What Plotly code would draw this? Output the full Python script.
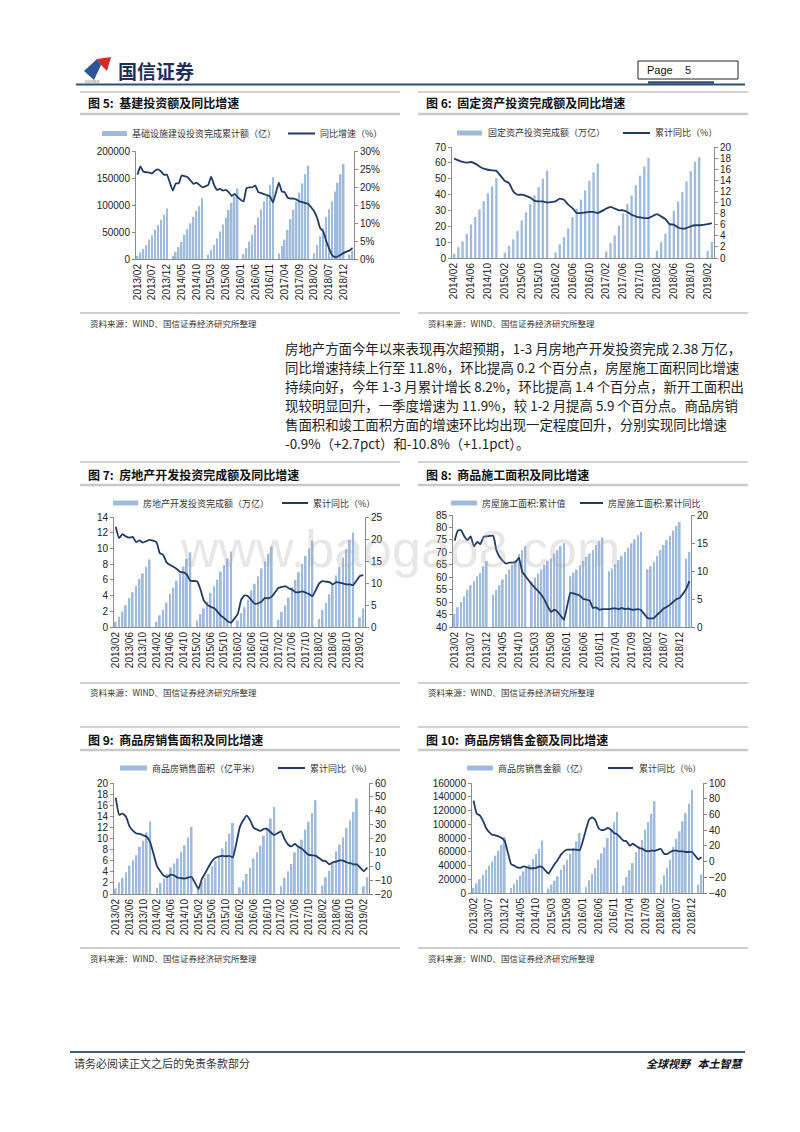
import plotly.graph_objects as go

W, H = 800, 1132
BAR_COLOR = "#9ebbdd"
LINE_COLOR = "#1f3a66"
AXIS_COLOR = "#8c8c8c"
CJK = "Noto Sans CJK SC"
LAT = "Arial, Liberation Sans, sans-serif"
TICK_FONT = dict(family=LAT, size=10, color="#222222")


def months(y0, m0, y1, m1):
    out = []
    y, m = y0, m0
    while (y, m) <= (y1, m1):
        out.append(f"{y}/{m:02d}")
        m += 1
        if m == 13:
            y, m = y + 1, 1
    return out


# ---------------- categories ----------------
CATS_2013 = months(2013, 2, 2019, 3)   # 74 months (January = no release)
CATS_2014 = months(2014, 2, 2019, 3)   # 62 months

TICKS_5 = CATS_2013[::5]               # 2013/02, 2013/07 ... 2018/12
TICKS_4 = CATS_2013[::4]               # 2013/02, 2013/06 ... 2019/02
TICKS_6 = CATS_2014[::4]               # 2014/02, 2014/06 ... 2019/02

# ---------------- 图5 基建投资 ----------------
INFRA_AMT = [6000, 12000, 18500, 26000, 36000, 44000, 54000, 63000, 72500, 82000, 93500,
             None, 6000, 13500, 22000, 32000, 45000, 55000, 66000, 78000, 89000, 98000, 112500,
             None, 8000, 17000, 26000, 38000, 51000, 64000, 77000, 91000, 104000, 116000, 131000,
             None, 9000, 20000, 32000, 45000, 63000, 77000, 92000, 107000, 121000, 137000, 152000,
             None, 10000, 24000, 36000, 54000, 74000, 91000, 106000, 123000, 140000, 157000, 173000,
             None, 11000, 26000, 42000, 57000, 78000, 92000, 107000, 125000, 141000, 157000, 176000,
             None, 8000, 16000]
INFRA_YOY = [23.4, 25.7, 24.3, 24.1, 24.0, 23.8, 24.6, 24.9, 24.3, 23.4, 23.4,
             None, 19.0, 21.0, 21.0, 23.2, 23.0, 22.7, 21.8, 20.9, 21.2, 20.6, 19.9,
             None, 20.6, 22.9, 20.6, 19.2, 19.5, 19.0, 19.2, 18.5, 17.5, 18.1, 17.2,
             None, 16.0, 19.7, 19.9, 19.9, 20.4, 18.6, 18.3, 18.0, 17.7, 17.4, 15.7,
             None, 21.2, 18.8, 18.5, 17.0, 16.8, 16.8, 16.5, 16.0, 15.8, 15.5, 15.3,
             None, 13.2, 11.4, 8.6, 7.7, 5.2, 3.0, 1.2, 0.5, 0.7, 1.2, 1.7,
             None, 2.4, 3.1]

# ---------------- 图6 固定资产投资 ----------------
FAI_AMT = [2.7, 6.8, 10.5, 15.1, 21.2, 25.9, 30.7, 35.9, 40.8, 45.2, 50.4,
           None, 3.4, 7.7, 11.8, 17.1, 23.7, 28.8, 33.9, 39.5, 44.8, 50.0, 55.2,
           None, 3.6, 8.6, 13.3, 18.7, 25.9, 31.1, 36.8, 42.7, 48.8, 54.0, 59.7,
           None, 4.1, 9.4, 14.3, 20.3, 28.1, 34.1, 39.5, 45.9, 51.9, 57.8, 63.2,
           None, 4.5, 10.0, 15.3, 21.8, 29.8, 35.6, 41.5, 48.3, 54.7, 60.8, 63.6,
           None, 4.5, 10.2]
FAI_YOY = [17.9, 17.6, 17.3, 17.2, 17.3, 17.0, 16.5, 16.1, 15.9, 15.8, 15.7,
           None, 13.9, 13.5, 12.0, 11.4, 11.4, 11.2, 10.9, 10.3, 10.2, 10.2, 10.0,
           None, 10.2, 10.7, 10.5, 9.6, 9.0, 8.1, 8.1, 8.2, 8.3, 8.3, 8.1,
           None, 8.9, 9.2, 8.9, 8.6, 8.6, 8.3, 7.8, 7.5, 7.3, 7.2, 7.2,
           None, 7.9, 7.5, 7.0, 6.1, 6.0, 5.5, 5.3, 5.4, 5.7, 5.9, 5.9,
           None, 6.1, 6.3]

# ---------------- 图7 房地产开发投资 ----------------
RE_AMT = [0.67, 1.32, 1.97, 2.78, 3.68, 4.42, 5.22, 6.12, 6.84, 7.65, 8.60,
          None, 0.68, 1.50, 2.20, 3.09, 4.20, 5.01, 5.88, 6.82, 7.71, 8.69, 9.50,
          None, 0.80, 1.65, 2.36, 3.22, 4.36, 5.18, 6.02, 7.05, 7.88, 8.72, 9.60,
          None, 0.83, 1.78, 2.53, 3.47, 4.66, 5.50, 6.44, 7.46, 8.38, 9.32, 10.26,
          None, 0.91, 1.93, 2.75, 3.73, 5.06, 5.96, 6.97, 8.06, 9.06, 10.00, 10.98,
          None, 1.03, 2.16, 3.07, 4.16, 5.55, 6.57, 7.68, 8.86, 9.93, 11.09, 12.03,
          None, 1.21, 2.38]
RE_YOY = [22.8, 20.2, 21.1, 20.6, 20.3, 20.5, 19.3, 19.7, 19.2, 19.5, 19.8,
          None, 19.3, 16.8, 16.4, 14.7, 14.1, 13.7, 13.2, 12.5, 12.4, 11.9, 10.5,
          None, 10.4, 8.5, 6.0, 5.1, 4.6, 4.3, 3.5, 2.6, 2.0, 1.3, 1.0,
          None, 3.0, 6.2, 7.2, 7.0, 6.1, 5.3, 5.4, 5.8, 6.6, 6.5, 6.9,
          None, 8.9, 9.1, 9.3, 8.8, 8.5, 7.9, 7.9, 8.1, 7.8, 7.5, 7.0,
          None, 9.9, 10.4, 10.3, 10.2, 9.7, 10.2, 10.1, 9.9, 9.7, 9.7, 9.5,
          None, 11.6, 11.8]

# ---------------- 图8 房屋施工面积 ----------------
CONS_AMT = [45.3, 48.0, 50.0, 52.3, 55.0, 56.8, 58.5, 60.4, 61.7, 64.4, 66.5,
            None, 53.0, 54.8, 56.8, 59.1, 61.2, 63.1, 65.0, 66.9, 69.3, 70.9, 72.6,
            None, 58.4, 59.9, 61.5, 63.2, 65.0, 66.6, 67.5, 69.5, 70.9, 72.5, 73.6,
            None, 60.4, 61.9, 63.1, 64.8, 66.5, 68.2, 69.5, 70.9, 72.9, 74.6, 75.9,
            None, 62.4, 63.5, 65.2, 66.9, 68.5, 70.2, 71.8, 73.6, 75.2, 76.9, 78.1,
            None, 63.2, 64.4, 66.2, 68.5, 70.9, 72.9, 74.9, 76.7, 78.7, 80.6, 82.2,
            None, 67.5, 70.2]
CONS_YOY = [15.4, 17.2, 17.3, 16.2, 15.5, 16.2, 14.4, 15.2, 14.8, 16.1, 16.2,
            None, 16.3, 13.7, 12.5, 11.8, 11.3, 11.5, 11.5, 11.6, 12.4, 9.9, 9.1,
            None, 7.6, 7.0, 6.4, 5.7, 4.8, 3.6, 2.7, 3.1, 2.7, 2.0, 1.3,
            None, 6.1, 6.0, 5.8, 5.6, 5.0, 4.9, 4.7, 3.4, 3.5, 3.1, 3.2,
            None, 3.2, 3.3, 3.3, 3.2, 3.4, 3.2, 3.3, 3.1, 3.1, 3.2, 3.0,
            None, 1.6, 1.5, 1.6, 2.2, 2.7, 3.3, 3.6, 4.0, 4.5, 5.0, 5.2,
            None, 6.8, 8.2]

# ---------------- 图9 商品房销售面积 ----------------
SALES_AREA = [1.0, 2.1, 2.9, 3.9, 5.1, 6.1, 7.0, 8.5, 9.6, 11.1, 13.1,
              None, 1.1, 2.0, 2.8, 3.6, 4.8, 5.5, 6.4, 7.6, 8.8, 10.2, 12.1,
              None, 1.1, 2.1, 2.9, 3.6, 5.0, 5.9, 6.8, 8.2, 9.5, 10.9, 12.8,
              None, 1.2, 2.4, 3.6, 4.7, 6.4, 7.5, 8.7, 10.5, 12.0, 13.6, 15.7,
              None, 1.4, 2.9, 4.1, 5.4, 7.5, 8.7, 9.8, 11.6, 13.0, 14.6, 16.9,
              None, 1.5, 3.0, 4.2, 5.6, 7.7, 8.9, 10.2, 11.9, 13.3, 14.8, 17.2,
              None, 1.4, 3.0]
SALES_AREA_YOY = [49.5, 37.1, 38.0, 35.6, 28.7, 25.6, 23.6, 23.4, 22.3, 21.3, 17.3,
                  None, -0.1, -3.8, -6.9, -7.8, -6.0, -6.7, -8.3, -8.6, -8.9, -8.2, -7.6,
                  None, -16.3, -9.2, -4.8, -0.2, 3.9, 6.1, 7.2, 7.5, 7.2, 7.4, 6.5,
                  None, 28.2, 33.1, 36.5, 33.2, 27.9, 26.4, 25.5, 26.9, 26.8, 24.3, 22.5,
                  None, 25.1, 19.5, 15.7, 14.3, 16.1, 14.0, 12.7, 10.3, 8.2, 7.9, 7.7,
                  None, 4.1, 3.6, 1.3, 2.9, 3.3, 4.2, 4.0, 2.9, 2.2, 1.4, 1.3,
                  None, -3.6, -0.9]

# ---------------- 图10 商品房销售金额 ----------------
SALES_AMT = [7300, 14000, 20000, 26700, 33400, 39800, 46000, 54300, 61600, 70300, 81400,
             None, 7300, 13600, 19400, 25200, 31500, 36400, 41200, 49500, 56700, 64500, 76300,
             None, 6300, 12100, 18000, 24200, 33900, 41200, 48500, 57200, 65400, 75100, 87300,
             None, 8700, 18400, 27600, 36400, 48500, 57700, 66400, 80000, 91100, 102800, 117600,
             None, 10700, 23300, 33000, 43600, 59100, 67900, 77600, 92100, 103300, 115400, 133700,
             None, 12100, 25700, 36400, 48500, 67000, 78500, 89700, 104200, 116400, 129900, 150000,
             None, 12100, 27000]
SALES_AMT_YOY = [77.5, 61.2, 58.8, 52.1, 42.7, 37.6, 34.2, 33.4, 32.1, 30.0, 26.3,
                 None, -3.0, -5.2, -7.5, -8.0, -6.0, -7.0, -8.5, -8.5, -8.0, -6.3, -7.0,
                 None, -15.4, -9.3, -3.1, 2.4, 8.8, 13.0, 15.1, 15.1, 15.1, 15.1, 14.4,
                 None, 40.6, 53.3, 56.3, 53.0, 42.7, 40.0, 40.6, 42.7, 40.6, 36.4, 34.8,
                 None, 26.6, 25.8, 20.2, 22.7, 20.2, 17.3, 16.4, 13.9, 13.0, 13.9, 13.7,
                 None, 16.0, 10.1, 9.6, 12.2, 13.9, 13.9, 13.0, 13.0, 12.2, 12.2, 12.2,
                 None, 2.8, 5.6]

PARAGRAPH = [
    "房地产方面今年以来表现再次超预期，1-3 月房地产开发投资完成 2.38 万亿，",
    "同比增速持续上行至 11.8%，环比提高 0.2 个百分点，房屋施工面积同比增速",
    "持续向好，今年 1-3 月累计增长 8.2%，环比提高 1.4 个百分点，新开工面积出",
    "现较明显回升，一季度增速为 11.9%，较 1-2 月提高 5.9 个百分点。商品房销",
    "售面积和竣工面积方面的增速环比均出现一定程度回升，分别实现同比增速",
    "-0.9%（+2.7pct）和-10.8%（+1.1pct）。",
]
SOURCE = "资料来源：WIND、国信证券经济研究所整理"

CHARTS = [
    dict(title="图 5:  基建投资额及同比增速", cats=CATS_2013, bars=INFRA_AMT, line=INFRA_YOY,
         ticks=TICKS_5, box=(136, 354, 151, 259), yl=(0, 200000, 50000), yr=(0, 30, 5), suffix="%",
         legend=("基础设施建设投资完成累计额（亿）", "同比增速（%）"),
         lg=(102, 127, 130, 288, 315, 318, 133.5), col=0, row=0),
    dict(title="图 6:  固定资产投资完成额及同比增速", cats=CATS_2014, bars=FAI_AMT, line=FAI_YOY,
         ticks=TICKS_6, box=(452, 714, 147, 258), yl=(0, 70, 10), yr=(0, 20, 2), suffix="",
         legend=("固定资产投资完成额（万亿）", "累计同比（%）"),
         lg=(457, 482, 486, 623, 650, 653, 133), col=1, row=0),
    dict(title="图 7:  房地产开发投资完成额及同比增速", cats=CATS_2013, bars=RE_AMT, line=RE_YOY,
         ticks=TICKS_4, box=(114, 365, 517, 627), yl=(0, 14, 2), yr=(0, 25, 5), suffix="",
         legend=("房地产开发投资完成额（万亿）", "累计同比（%）"),
         lg=(113, 138, 141, 282, 308, 311, 503), col=0, row=1),
    dict(title="图 8:  商品施工面积及同比增速", cats=CATS_2013, bars=CONS_AMT, line=CONS_YOY,
         ticks=TICKS_5, box=(453, 691, 515, 627), yl=(40, 85, 5), yr=(0, 20, 5), suffix="",
         legend=("房屋施工面积:累计值", "房屋施工面积:累计同比"),
         lg=(451, 477, 480, 580, 603, 606, 503), col=1, row=1),
    dict(title="图 9:  商品房销售面积及同比增速", cats=CATS_2013, bars=SALES_AREA, line=SALES_AREA_YOY,
         ticks=TICKS_4, box=(114, 369, 783, 894), yl=(0, 20, 2), yr=(-20, 60, 10), suffix="",
         legend=("商品房销售面积（亿平米）", "累计同比（%）"),
         lg=(120, 147, 150, 278, 305, 308, 768), col=0, row=2),
    dict(title="图 10:  商品房销售金额及同比增速", cats=CATS_2013, bars=SALES_AMT, line=SALES_AMT_YOY,
         ticks=TICKS_5, box=(472, 703, 783, 893), yl=(0, 160000, 20000), yr=(-40, 100, 20), suffix="",
         legend=("商品房销售金额（亿）", "累计同比（%）"),
         lg=(467, 493, 496, 608, 633, 637, 768), col=1, row=2),
]

# column x-extents and row y-positions of the framing rules
COL_X = [(80, 400), (418, 748)]
ROW_TITLE = [(92, 103, 114), (462, 474, 485), (727, 739, 750)]
ROW_SOURCE = [(313, 323), (683, 692), (948, 958)]


def fx(x):
    return x / W


def fy(y):
    return 1 - y / H


fig = go.Figure()
layout = dict(width=W, height=H, margin=dict(l=0, r=0, t=0, b=0),
              paper_bgcolor="white", plot_bgcolor="rgba(0,0,0,0)",
              showlegend=False, template="none", bargap=0.45)
shapes = []
annotations = []


def text(x, y, s, size, color="#222222", family=CJK, anchor="left"):
    annotations.append(dict(x=fx(x), y=fy(y), xref="paper", yref="paper", text=s,
                            showarrow=False, xanchor=anchor, yanchor="middle",
                            font=dict(family=family, size=size, color=color)))


def hline(x0, x1, y, color, width):
    shapes.append(dict(type="line", xref="paper", yref="paper", x0=fx(x0), x1=fx(x1),
                       y0=fy(y), y1=fy(y), line=dict(color=color, width=width)))


for k, c in enumerate(CHARTS, start=1):
    xname = "x" if k == 1 else f"x{k}"
    yl_i, yr_i = 2 * k - 1, 2 * k
    ylname = "y" if yl_i == 1 else f"y{yl_i}"
    yrname = f"y{yr_i}"
    x0, x1, y0, y1 = c["box"]
    n = len(c["cats"])

    fig.add_trace(go.Bar(x=c["cats"], y=c["bars"], marker=dict(color=BAR_COLOR, line=dict(width=0)),
                         xaxis=xname, yaxis=ylname, name=c["legend"][0]))
    fig.add_trace(go.Scatter(x=c["cats"], y=c["line"], mode="lines", connectgaps=True,
                             line=dict(color=LINE_COLOR, width=1.8, shape="spline", smoothing=0.4),
                             xaxis=xname, yaxis=yrname, name=c["legend"][1]))

    layout["xaxis" if k == 1 else f"xaxis{k}"] = dict(
        domain=[fx(x0), fx(x1)], anchor=ylname, type="category", range=[-0.5, n - 0.5],
        tickmode="array", tickvals=c["ticks"], ticktext=c["ticks"], tickangle=-90,
        showline=True, linecolor=AXIS_COLOR, linewidth=1, ticks="", showgrid=False,
        zeroline=False, tickfont=TICK_FONT, automargin=False)
    lo, hi, dt = c["yl"]
    layout["yaxis" if yl_i == 1 else f"yaxis{yl_i}"] = dict(
        domain=[fy(y1), fy(y0)], anchor=xname, range=[lo, hi], dtick=dt, tick0=lo,
        tickformat="d", showline=True, linecolor=AXIS_COLOR, ticks="outside", ticklen=3,
        tickcolor=AXIS_COLOR, showgrid=False, zeroline=False, tickfont=TICK_FONT, automargin=False)
    lo, hi, dt = c["yr"]
    layout[f"yaxis{yr_i}"] = dict(
        overlaying=ylname, side="right", anchor=xname, range=[lo, hi], dtick=dt, tick0=lo,
        tickformat="d", ticksuffix=c["suffix"], showline=True, linecolor=AXIS_COLOR,
        ticks="outside", ticklen=3, tickcolor=AXIS_COLOR, showgrid=False, zeroline=False,
        tickfont=TICK_FONT, automargin=False)

    # title block
    cx0, cx1 = COL_X[c["col"]]
    t_top, t_mid, t_bot = ROW_TITLE[c["row"]]
    hline(cx0, cx1, t_top, "#a6a6a6", 1.2)
    hline(cx0, cx1, t_bot, "#c8c8c8", 2.5)
    text(cx0 + 6, t_mid, "<b>" + c["title"] + "</b>", 12, "#111111")
    s_line, s_txt = ROW_SOURCE[c["row"]]
    hline(cx0, cx1, s_line, "#bfbfbf", 1.5)
    text(cx0 + 8, s_txt, SOURCE, 8.5, "#333333")

    # legend
    bx0, bx1, t1x, lx0, lx1, t2x, ly = c["lg"]
    shapes.append(dict(type="rect", xref="paper", yref="paper", x0=fx(bx0), x1=fx(bx1),
                       y0=fy(ly + 2.5), y1=fy(ly - 2.5), fillcolor=BAR_COLOR, line=dict(width=0)))
    hline(lx0, lx1, ly, LINE_COLOR, 2)
    text(t1x, ly, c["legend"][0], 9, "#333333")
    text(t2x, ly, c["legend"][1], 9, "#333333")

# ---------------- header ----------------
shapes.append(dict(type="path", xref="paper", yref="paper", line=dict(width=0), fillcolor="#2b5597",
                   path=f"M {fx(84)} {fy(71)} L {fx(97)} {fy(59)} L {fx(101)} {fy(65)} L {fx(94)} {fy(80)} Z"))
shapes.append(dict(type="path", xref="paper", yref="paper", line=dict(width=0), fillcolor="#d42a20",
                   path=f"M {fx(97)} {fy(59)} L {fx(111)} {fy(57)} L {fx(107)} {fy(71)} L {fx(101)} {fy(65)} Z"))
text(116, 70, "<b>国信证券</b>", 19, "#1c2f5e")
text(83, 82, "GUOSEN", 3.5, "#555555")
shapes.append(dict(type="rect", xref="paper", yref="paper", x0=fx(638), x1=fx(738), y0=fy(79), y1=fy(61),
                   line=dict(color="#222222", width=1), fillcolor="white"))
text(645, 70, "Page    5", 11, "#111111", LAT)
hline(76, 745, 84.5, "#2f4e78", 2)
hline(648, 714, 82.5, "#2f4e78", 2.5)

# ---------------- paragraph ----------------
for i, line in enumerate(PARAGRAPH):
    text(283, 348 + i * 18.9, line, 13.4, "#222222")

# ---------------- footer ----------------
hline(70, 745, 1052, "#3d5a80", 2)
text(72, 1063, "请务必阅读正文之后的免责条款部分", 11, "#333333")
text(745, 1063, "<b><i>全球视野   本土智慧</i></b>", 11, "#111111", anchor="right")

# ---------------- watermark ----------------
text(400, 549, "www.baogao8.com", 52, "rgba(170,170,170,0.28)", LAT, anchor="center")

layout["shapes"] = shapes
layout["annotations"] = annotations
fig.update_layout(**layout)
fig.write_html("out.html", config={"displayModeBar": False},
               post_script="document.body.style.margin='0';")
